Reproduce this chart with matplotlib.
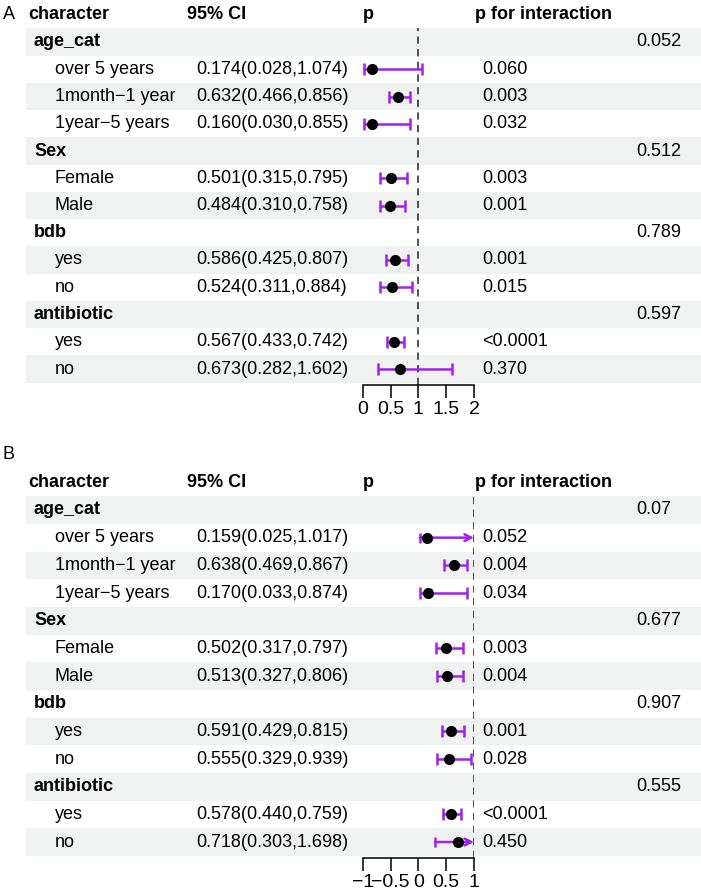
import matplotlib.pyplot as plt

plt.rcParams['font.family'] = ['Liberation Sans', 'DejaVu Sans']
plt.rcParams['font.size'] = 13

# subgroup structure (shared by both models)
groups = ['age_cat', 'Sex', 'bdb', 'antibiotic']
levels = [['over 5 years', '1month\u22121 year', '1year\u22125 years'],
          ['Female', 'Male'],
          ['yes', 'no'],
          ['yes', 'no']]

# model A
est_a = [0.174, 0.632, 0.160, 0.501, 0.484, 0.586, 0.524, 0.567, 0.673]
lo_a = [0.028, 0.466, 0.030, 0.315, 0.310, 0.425, 0.311, 0.433, 0.282]
hi_a = [1.074, 0.856, 0.855, 0.795, 0.758, 0.807, 0.884, 0.742, 1.602]
p_a = ['0.060', '0.003', '0.032', '0.003', '0.001', '0.001', '0.015', '<0.0001', '0.370']
pint_a = ['0.052', '0.512', '0.789', '0.597']
ticks_a = [0, 0.5, 1, 1.5, 2]
ticklabels_a = ['0', '0.5', '1', '1.5', '2']

# model B
est_b = [0.159, 0.638, 0.170, 0.502, 0.513, 0.591, 0.555, 0.578, 0.718]
lo_b = [0.025, 0.469, 0.033, 0.317, 0.327, 0.429, 0.329, 0.440, 0.303]
hi_b = [1.017, 0.867, 0.874, 0.797, 0.806, 0.815, 0.939, 0.759, 1.698]
p_b = ['0.052', '0.004', '0.034', '0.003', '0.004', '0.001', '0.028', '<0.0001', '0.450']
pint_b = ['0.07', '0.677', '0.907', '0.555']
ticks_b = [-1, -0.5, 0, 0.5, 1]
ticklabels_b = ['\u22121', '\u22120.5', '0', '0.5', '1']

W, H = 701, 893
BAND = '#eff2f1'
PURPLE = '#a020f0'


def draw_panel(fig, letter, letter_row, top_px, bot_px, y0, step,
               est, lo, hi, pvals, pint, ticks, ticklabels):
    # table axes: pixel units across, row units down
    ax = fig.add_axes([0, 1 - bot_px / H, 1, (bot_px - top_px) / H])
    ax.set_xlim(0, W)
    ax.set_ylim((bot_px - y0) / step, (top_px - y0) / step)
    ax.axis('off')

    ax.text(3, letter_row, letter, va='center', ha='left')
    ax.text(28, -1, 'character', va='center', fontweight='bold')
    ax.text(187, -1, '95% CI', va='center', fontweight='bold')
    ax.text(363, -1, 'p', va='center', fontweight='bold')
    ax.text(475, -1, 'p for interaction', va='center', fontweight='bold')

    row = 0
    k = 0
    rows_y = []
    for g, lv, pi in zip(groups, levels, pint):
        if row % 2 == 0:
            ax.barh(row, W - 26, left=26, height=1, color=BAND, lw=0)
        ax.text(34, row, g, va='center', fontweight='bold')
        ax.text(636, row, pi, va='center')
        row += 1
        for name in lv:
            if row % 2 == 0:
                ax.barh(row, W - 26, left=26, height=1, color=BAND, lw=0)
            ax.text(55, row, name, va='center')
            ax.text(196, row, f'{est[k]:.3f}({lo[k]:.3f},{hi[k]:.3f})', va='center')
            ax.text(482, row, pvals[k], va='center')
            rows_y.append(row)
            row += 1
            k += 1

    # forest axes
    axis_row = row - 0.42
    fx0, fx1 = 362.7, 474
    ftop = y0 - 0.5 * step
    fbot = y0 + axis_row * step
    fa = fig.add_axes([fx0 / W, 1 - fbot / H, (fx1 - fx0) / W, (fbot - ftop) / H])
    fa.patch.set_alpha(0)
    fa.set_xlim(ticks[0], ticks[-1])
    fa.set_ylim(axis_row, -0.5)
    for s in ['top', 'right', 'left']:
        fa.spines[s].set_visible(False)
    fa.spines['bottom'].set_linewidth(1.1)
    fa.set_yticks([])
    fa.set_xticks(ticks)
    fa.set_xticklabels(ticklabels)
    fa.tick_params(axis='x', direction='out', length=9, width=1.1, pad=2.5,
                   labelsize=14)
    fa.axvline(1, color='#444444', lw=1.3, dashes=(4, 3), zorder=1)

    xmax = ticks[-1]
    for e, l, h, y in zip(est, lo, hi, rows_y):
        if h > xmax:
            fa.annotate('', xy=(xmax, y), xytext=(l, y),
                        arrowprops=dict(arrowstyle='->', color=PURPLE, lw=1.8,
                                        shrinkA=0, shrinkB=0,
                                        mutation_scale=12))
            fa.plot([l], [y], marker='|', color=PURPLE, ms=7, mew=1.8)
        else:
            fa.errorbar(e, y, xerr=[[e - l], [h - e]], fmt='none',
                        ecolor=PURPLE, elinewidth=1.8, capsize=4,
                        capthick=1.8, zorder=2)
        fa.plot(e, y, 'o', color='black', ms=7, zorder=3)


fig = plt.figure(figsize=(W / 100, H / 100), dpi=100)
draw_panel(fig, 'A', -1, 0, 440, 42, 27.25,
           est_a, lo_a, hi_a, p_a, pint_a, ticks_a, ticklabels_a)
draw_panel(fig, 'B', -2, 440, 893, 510, 27.67,
           est_b, lo_b, hi_b, p_b, pint_b, ticks_b, ticklabels_b)

fig.savefig('out.png', dpi=100)
print("Saved: out.png")
